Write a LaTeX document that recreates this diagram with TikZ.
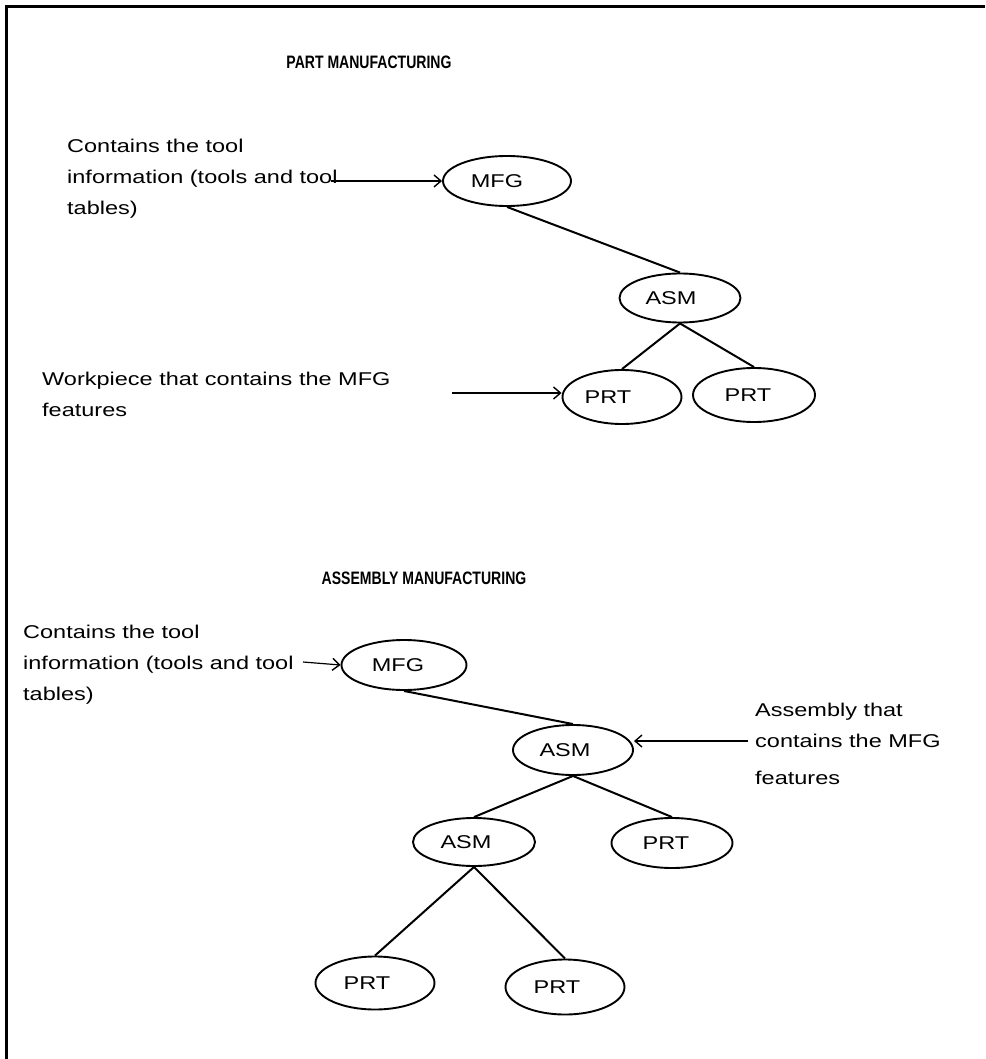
\documentclass[tikz,border=0pt]{standalone}
\usepackage{fontspec}
\setmainfont{Liberation Sans}
\usetikzlibrary{shapes.geometric,arrows.meta}
\newcommand{\wt}[1]{\scalebox{1.27}[1]{#1}}
\newcommand{\hd}[1]{\scalebox{0.78}[1]{#1}}
\tikzset{
  bub/.style={ellipse, draw, line width=1.9pt, inner sep=0pt, font=\fontsize{18.5}{22}\selectfont},
  note/.style={anchor=north west, align=left, inner sep=0pt, font=\fontsize{18.5}{31}\selectfont},
  heading/.style={inner sep=0pt, font=\bfseries\fontsize{18}{20}\selectfont},
  link/.style={line width=2pt},
  ptr/.style={line width=1.2pt, -{Straight Barb[length=7pt,width=12pt,line width=1.4pt]}},
  frame/.style={line width=2.2pt}
}
\begin{document}
\begin{tikzpicture}[x=1pt,y=-1pt]
\useasboundingbox (0,0) rectangle (985,1059);
\draw[frame] (985,6.5) -- (6.5,6.5) -- (6.5,1059);

% ---------- Part manufacturing ----------
\node[heading] (t1) at (369,62) {\hd{PART MANUFACTURING}};
\node[note] (na) at (67,139) {\wt{Contains the tool}\\ \wt{information (tools and tool}\\ \wt{tables)}};
\node[bub, minimum width=128pt, minimum height=50pt] (mfga) at (507,181) {\wt{MFG}\kern20pt};
\node[bub, minimum width=121pt, minimum height=49pt] (asma) at (680,298) {\wt{ASM}\kern18pt};
\node[bub, minimum width=119pt, minimum height=54pt] (prta) at (622,397) {\wt{PRT}\kern28pt};
\node[bub, minimum width=122pt, minimum height=54pt] (prtb) at (754,395) {\wt{PRT}\kern12pt};
\node[note] (nb) at (42,372) {\wt{Workpiece that contains the MFG}\\ \wt{features}};
\coordinate (pa) at (331,181);
\coordinate (pb) at (452,393);
\draw[ptr] (pa) -- (mfga.west);
\draw[ptr] (pb) -- (pb -| prta.west);
\draw[link] (mfga.south) -- (asma.north);
\draw[link] (asma.south) -- (prta.north);
\draw[link] (asma.south) -- (prtb.north);

% ---------- Assembly manufacturing ----------
\node[heading] (t2) at (424,578) {\hd{ASSEMBLY MANUFACTURING}};
\node[note] (nc) at (23,625) {\wt{Contains the tool}\\ \wt{information (tools and tool}\\ \wt{tables)}};
\node[bub, minimum width=125pt, minimum height=50pt] (mfgb) at (404,665) {\wt{MFG}\kern12pt};
\node[bub, minimum width=120pt, minimum height=50pt] (asmb) at (573,750) {\wt{ASM}\kern16pt};
\node[bub, minimum width=122pt, minimum height=48pt] (asmc) at (474,842) {\wt{ASM}\kern16pt};
\node[bub, minimum width=121pt, minimum height=50pt] (prtc) at (672,843) {\wt{PRT}\kern12pt};
\node[bub, minimum width=119pt, minimum height=53pt] (prtd) at (375,983) {\wt{PRT}\kern16pt};
\node[bub, minimum width=119pt, minimum height=55pt] (prte) at (565,987) {\wt{PRT}\kern16pt};
\node[note] (nd) at (755,703) {\wt{Assembly that}\\ \wt{contains the MFG}\\[6pt] \wt{features}};
\coordinate (pc) at (303,662);
\coordinate (pd) at (748,741);
\draw[ptr] (pc) -- (mfgb.west);
\draw[ptr] (pd) -- (pd -| asmb.east);
\draw[link] (mfgb.south) -- (asmb.north);
\draw[link] (asmb.south) -- (asmc.north);
\draw[link] (asmb.south) -- (prtc.north);
\draw[link] (asmc.south) -- (prtd.north);
\draw[link] (asmc.south) -- (prte.north);
\end{tikzpicture}
\end{document}
